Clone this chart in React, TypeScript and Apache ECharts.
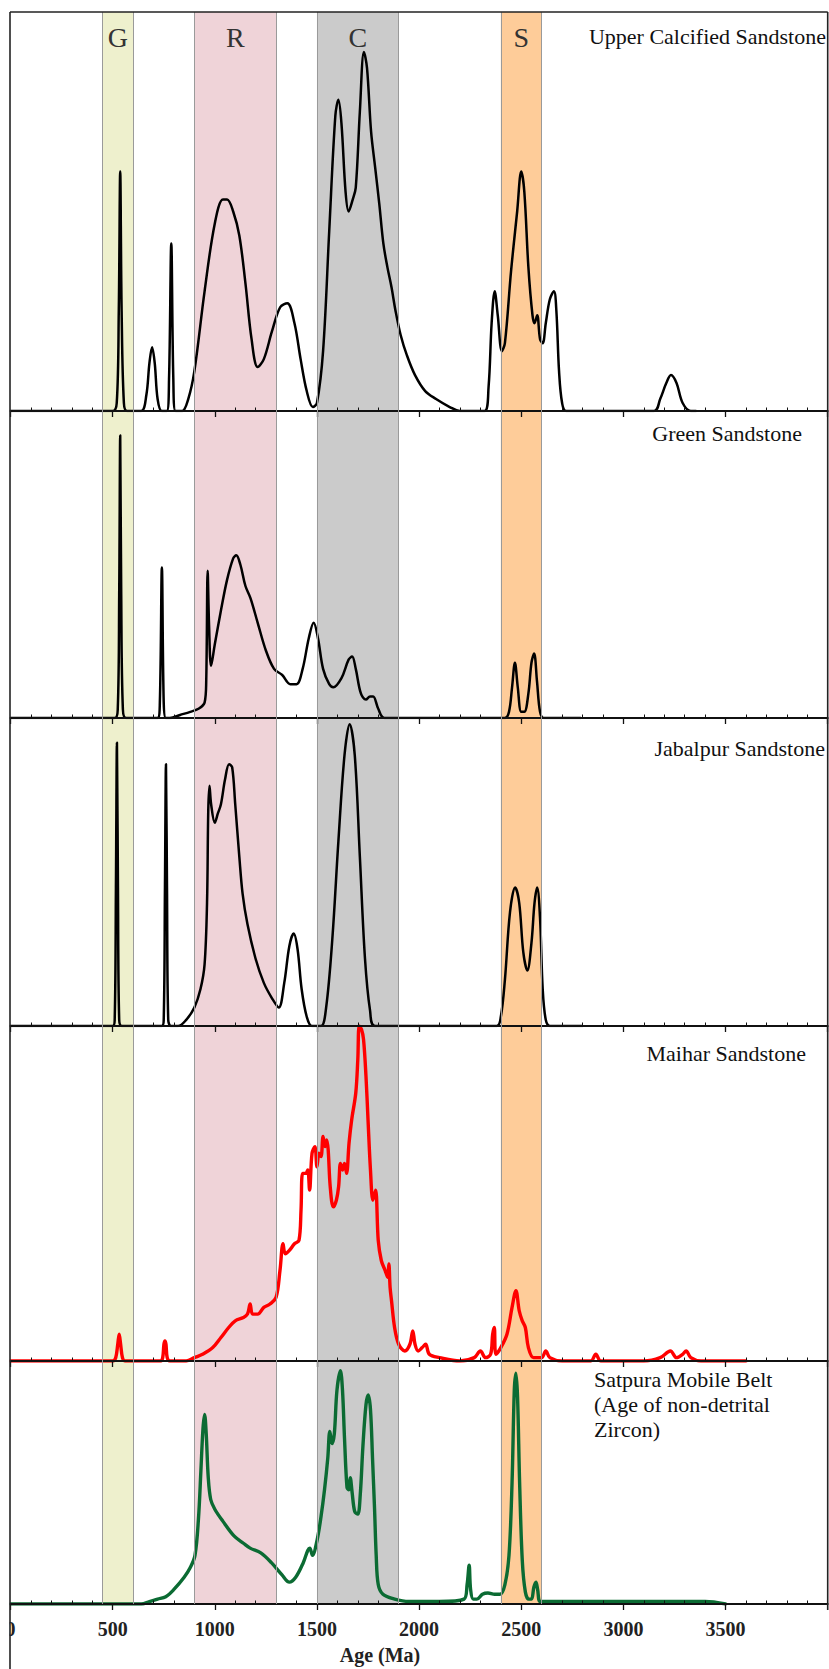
import React, { useEffect, useRef } from "react";
import * as echarts from "echarts";

// ---- Data (age in Ma, relative probability in % of panel scale) ----
const panelNames = [
  "Upper Calcified Sandstone",
  "Green Sandstone",
  "Jabalpur Sandstone",
  "Maihar Sandstone",
  "Satpura Mobile Belt\n(Age of non-detrital\nZircon)",
];

const xTickLabels = ["0", "500", "1000", "1500", "2000", "2500", "3000", "3500"];

const bands = [
  { name: "G", from: 450, to: 600, color: "#EEF0CD" },
  { name: "R", from: 900, to: 1300, color: "#EFD3D8" },
  { name: "C", from: 1500, to: 1900, color: "#CBCBCB" },
  { name: "S", from: 2400, to: 2600, color: "#FECC99" },
];

const upperCalcified: number[][] = [
  [0, 0], [500, 0], [520, 2], [530, 25], [537, 60], [544, 25], [555, 2], [570, 0],
  [640, 0], [665, 4], [680, 12], [693, 16], [706, 12], [720, 3], [740, 0],
  [765, 0], [776, 8], [787, 42], [797, 8], [808, 0],
  [840, 0], [870, 3], [900, 10], [950, 30], [1000, 47], [1040, 53], [1060, 53], [1090, 50], [1120, 44],
  [1150, 32], [1180, 18], [1210, 11], [1240, 13], [1280, 20], [1320, 26], [1355, 27], [1390, 22],
  [1420, 13], [1450, 5], [1480, 1], [1500, 2],
  [1530, 15], [1560, 45], [1590, 74], [1605, 78], [1620, 72], [1640, 55], [1655, 50], [1675, 53],
  [1690, 56], [1710, 75], [1730, 90], [1745, 86], [1765, 70], [1785, 61], [1805, 52], [1825, 42],
  [1845, 36], [1865, 31], [1885, 25], [1910, 19], [1940, 14], [1980, 9], [2030, 5], [2083, 3],
  [2150, 1], [2200, 0],
  [2320, 0], [2340, 6], [2355, 22], [2370, 30], [2385, 24], [2405, 15], [2420, 17], [2450, 35],
  [2480, 50], [2500, 60], [2515, 55], [2535, 36], [2555, 24], [2565, 22], [2578, 24], [2592, 18],
  [2605, 17], [2620, 22], [2640, 28], [2660, 30], [2672, 25], [2685, 10], [2700, 2], [2720, 0],
  [3150, 0], [3180, 3], [3210, 7], [3233, 9], [3260, 7], [3290, 2], [3330, 0], [3355, 0],
];

const greenSandstone: number[][] = [
  [0, 0], [510, 0], [525, 3], [532, 40], [537, 92], [542, 40], [550, 3], [565, 0],
  [720, 0], [731, 5], [741, 49], [750, 5], [760, 0],
  [780, 0], [830, 1], [880, 2], [920, 3], [950, 5], [958, 12], [965, 48], [972, 30], [982, 17],
  [1000, 24], [1030, 35], [1060, 45], [1090, 52], [1105, 53], [1125, 50], [1150, 43], [1175, 39],
  [1210, 31], [1250, 22], [1290, 16], [1330, 14], [1370, 11], [1400, 11], [1430, 16], [1460, 26],
  [1484, 31], [1505, 26], [1530, 16], [1560, 11], [1580, 10], [1620, 13], [1655, 19], [1672, 20],
  [1690, 16], [1715, 8], [1740, 6], [1760, 7], [1775, 7], [1800, 3], [1830, 0],
  [2420, 0], [2440, 2], [2455, 10], [2469, 18], [2483, 10], [2500, 2], [2515, 2], [2535, 8],
  [2550, 18], [2563, 21], [2577, 12], [2592, 2], [2610, 0], [2790, 0],
];

const jabalpur: number[][] = [
  [0, 0], [500, 0], [510, 2], [516, 45], [521, 92], [526, 45], [532, 2], [545, 0],
  [740, 0], [750, 2], [756, 45], [761, 85], [766, 45], [772, 2], [785, 0],
  [820, 0], [860, 2], [900, 6], [930, 12], [950, 20], [962, 40], [968, 70], [974, 78], [982, 72],
  [1000, 66], [1015, 69], [1030, 72], [1050, 80], [1070, 85], [1085, 84], [1100, 72], [1120, 55],
  [1136, 43], [1160, 33], [1199, 22], [1240, 14], [1280, 9], [1313, 6], [1340, 14], [1365, 26],
  [1386, 30], [1405, 25], [1425, 12], [1450, 3], [1475, 0],
  [1520, 0], [1545, 6], [1575, 28], [1605, 60], [1635, 88], [1660, 98], [1685, 88], [1710, 55],
  [1735, 22], [1760, 5], [1785, 0],
  [2380, 0], [2400, 3], [2420, 15], [2445, 37], [2470, 45], [2490, 40], [2510, 24], [2530, 18],
  [2550, 27], [2565, 40], [2578, 45], [2592, 35], [2605, 12], [2620, 2], [2640, 0], [2800, 0],
];

const maihar: number[][] = [
  [0, 0], [500, 0], [515, 1], [525, 5], [532, 8], [539, 5], [548, 1], [560, 0],
  [735, 0], [745, 1], [751, 5], [756, 6], [761, 5], [767, 1], [780, 0],
  [860, 0], [900, 1], [940, 2], [990, 4], [1030, 7], [1068, 10], [1100, 12], [1140, 13], [1160, 14],
  [1173, 17], [1185, 14], [1210, 14], [1240, 16], [1270, 17], [1300, 19], [1319, 27], [1334, 35],
  [1345, 32], [1365, 33], [1390, 35], [1412, 36], [1422, 45], [1430, 56], [1445, 56], [1455, 57],
  [1464, 51], [1476, 62], [1490, 64], [1500, 58], [1510, 62], [1520, 61], [1530, 67], [1540, 64],
  [1548, 66], [1555, 63], [1565, 52], [1580, 46], [1595, 48], [1606, 52], [1615, 59], [1625, 57],
  [1635, 59], [1645, 56],
  [1657, 65], [1670, 72], [1690, 80], [1700, 90], [1707, 100], [1718, 99], [1728, 96], [1740, 85],
  [1750, 72], [1762, 57], [1774, 48], [1787, 51], [1800, 36], [1815, 30], [1834, 27], [1846, 25],
  [1852, 29], [1858, 22], [1865, 18], [1880, 10], [1900, 5], [1930, 3], [1955, 5], [1969, 9],
  [1980, 5], [1995, 3], [2015, 4], [2032, 5], [2050, 2], [2100, 1], [2200, 0], [2270, 1], [2300, 3],
  [2325, 1], [2350, 2], [2360, 8], [2368, 10], [2376, 2], [2400, 4], [2430, 8], [2455, 16],
  [2474, 21], [2490, 15], [2505, 12], [2520, 10], [2535, 4], [2560, 1], [2600, 1], [2620, 3],
  [2640, 1], [2700, 0], [2840, 0], [2865, 2], [2890, 0], [3100, 0], [3180, 1], [3230, 3], [3260, 1],
  [3290, 2], [3307, 3], [3330, 1], [3380, 0], [3600, 0],
];

const satpura: number[][] = [
  [0, 0], [640, 0], [680, 1], [720, 2], [760, 3], [800, 6], [850, 11], [880, 15], [903, 20],
  [920, 35], [932, 55], [942, 72], [950, 78], [958, 70], [968, 52], [980, 43], [1000, 39],
  [1040, 34], [1094, 28], [1140, 25], [1173, 23], [1225, 21], [1277, 17], [1329, 12], [1365, 9],
  [1396, 11], [1433, 17], [1455, 22], [1465, 23], [1478, 20], [1500, 26], [1520, 36], [1537, 47],
  [1553, 60], [1563, 71], [1574, 66], [1585, 70], [1598, 88], [1615, 96], [1625, 88], [1635, 68],
  [1647, 48], [1655, 47], [1663, 52], [1672, 46], [1685, 38], [1700, 37], [1712, 45], [1725, 65],
  [1740, 82], [1751, 86], [1762, 80], [1772, 60], [1782, 39], [1790, 20], [1800, 8], [1823, 4],
  [1880, 2], [1950, 1], [2100, 1], [2220, 2], [2235, 8], [2245, 16], [2252, 6], [2265, 2],
  [2283, 2], [2310, 4], [2337, 4.5], [2370, 4], [2396, 4], [2420, 8], [2440, 20], [2455, 50],
  [2466, 88], [2474, 95], [2482, 85], [2492, 50], [2505, 18], [2520, 5], [2537, 2], [2550, 2],
  [2562, 7], [2572, 9], [2580, 6], [2592, 1], [2620, 1], [2800, 1], [3100, 1], [3400, 1], [3500, 0],
];

const seriesData = [upperCalcified, greenSandstone, jabalpur, maihar, satpura];
const seriesColors = ["#000000", "#000000", "#000000", "#FF0000", "#0B6B33"];
const seriesWidths = [2.5, 2.5, 2.5, 3.4, 3.4];

// ---- Layout ----
const W = 829;
const H = 1669;
const PLOT_LEFT = 10.5;
const PLOT_RIGHT = 827.7;
const PANEL_TOP = [12, 411, 718, 1026, 1361];
const PANEL_AXIS = [411, 718, 1026, 1361, 1604];
const SERIF = "'Liberation Serif', 'Times New Roman', serif";

function buildOption() {
  const grids: any[] = [];
  const xAxes: any[] = [];
  const yAxes: any[] = [];
  const series: any[] = [];

  for (let i = 0; i < 5; i++) {
    grids.push({
      left: PLOT_LEFT,
      width: PLOT_RIGHT - PLOT_LEFT,
      top: PANEL_TOP[i],
      height: PANEL_AXIS[i] - PANEL_TOP[i],
      containLabel: false,
    });
    // axis A: line + inward minor ticks
    xAxes.push({
      gridIndex: i,
      type: "value",
      min: 0,
      max: 4000,
      interval: 500,
      position: "bottom",
      z: 4,
      axisLine: { show: true, onZero: false, lineStyle: { color: "#111", width: 2 } },
      axisTick: { show: false, inside: true },
      minorTick: { show: true, splitNumber: 5, length: 3.5, lineStyle: { color: "#111", width: 1 } },
      axisLabel: { show: false },
      splitLine: { show: false },
      minorSplitLine: { show: false },
    });
    // axis B: outward major ticks + labels
    xAxes.push({
      gridIndex: i,
      type: "value",
      min: 0,
      max: 4000,
      interval: 500,
      position: "bottom",
      z: 4,
      axisLine: { show: false, onZero: false },
      axisTick: { show: true, inside: false, length: 6, lineStyle: { color: "#111", width: 1.3 } },
      minorTick: { show: false },
      axisLabel: {
        show: i === 4,
        showMaxLabel: false,
        margin: 15,
        fontFamily: SERIF,
        fontWeight: "bold",
        fontSize: 20,
        color: "#222",
        formatter: (v: number) => {
          const idx = Math.round(v / 500);
          return xTickLabels[idx] ?? "";
        },
      },
      splitLine: { show: false },
    });
    yAxes.push({ gridIndex: i, type: "value", min: 0, max: 100, show: false });
    series.push({
      type: "line",
      xAxisIndex: i * 2,
      yAxisIndex: i,
      data: seriesData[i],
      showSymbol: false,
      symbol: "none",
      smooth: 0.35,
      z: 3,
      lineStyle: { color: seriesColors[i], width: seriesWidths[i], join: "round", cap: "round" },
      silent: true,
    });
  }

  // background grid for the age bands
  grids.push({
    left: PLOT_LEFT,
    width: PLOT_RIGHT - PLOT_LEFT,
    top: PANEL_TOP[0],
    height: PANEL_AXIS[4] - PANEL_TOP[0],
  });
  xAxes.push({ gridIndex: 5, type: "value", min: 0, max: 4000, show: false });
  yAxes.push({ gridIndex: 5, type: "value", min: 0, max: 1, show: false });
  const edgeData: any[] = [];
  bands.forEach((b) => {
    edgeData.push({ xAxis: b.from });
    edgeData.push({ xAxis: b.to });
  });
  series.push({
    type: "line",
    xAxisIndex: 10,
    yAxisIndex: 5,
    data: [[0, 0]],
    showSymbol: false,
    lineStyle: { width: 0, opacity: 0 },
    z: 1,
    silent: true,
    markArea: {
      silent: true,
      data: bands.map((b) => [
        {
          xAxis: b.from,
          itemStyle: { color: b.color, borderWidth: 0 },
          label: {
            show: true,
            position: "insideTop",
            distance: 11,
            formatter: b.name,
            fontFamily: SERIF,
            fontSize: 28,
            color: "#333",
          },
        },
        { xAxis: b.to },
      ]),
    },
    markLine: {
      silent: true,
      symbol: ["none", "none"],
      label: { show: false },
      lineStyle: { color: "#9a9a9a", type: "solid", width: 1 },
      data: edgeData,
    },
  });

  const labelStyle = { fill: "#111", fontSize: 22, fontFamily: SERIF };
  const graphic: any[] = [
    { type: "rect", z: 9, shape: { x: 0, y: 0, width: 9.6, height: H }, style: { fill: "#ffffff" } },
    { type: "line", z: 10, shape: { x1: 10, y1: 12, x2: 10, y2: H }, style: { stroke: "#222", lineWidth: 1.6 } },
    { type: "line", z: 10, shape: { x1: 10, y1: 12, x2: PLOT_RIGHT, y2: 12 }, style: { stroke: "#222", lineWidth: 1.6 } },
    { type: "line", z: 10, shape: { x1: PLOT_RIGHT, y1: 12, x2: PLOT_RIGHT, y2: 1610 }, style: { stroke: "#222", lineWidth: 1.6 } },
    { type: "text", z: 10, style: { ...labelStyle, text: panelNames[0], x: 826, y: 36, align: "right", verticalAlign: "middle" } },
    { type: "text", z: 10, style: { ...labelStyle, text: panelNames[1], x: 802, y: 433, align: "right", verticalAlign: "middle" } },
    { type: "text", z: 10, style: { ...labelStyle, text: panelNames[2], x: 825, y: 748, align: "right", verticalAlign: "middle" } },
    { type: "text", z: 10, style: { ...labelStyle, text: panelNames[3], x: 806, y: 1053, align: "right", verticalAlign: "middle" } },
    { type: "text", z: 10, style: { ...labelStyle, text: panelNames[4], x: 594, y: 1367, align: "left", verticalAlign: "top", lineHeight: 25 } },
    {
      type: "text",
      z: 10,
      style: { text: "Age (Ma)", x: 380, y: 1655, align: "center", verticalAlign: "middle", fill: "#222", fontSize: 20, fontWeight: "bold", fontFamily: SERIF },
    },
  ];

  return {
    animation: false,
    backgroundColor: "#ffffff",
    grid: grids,
    xAxis: xAxes,
    yAxis: yAxes,
    series,
    graphic,
  };
}

export default function App() {
  const ref = useRef<HTMLDivElement>(null);
  useEffect(() => {
    if (!ref.current) return;
    const chart = echarts.init(ref.current, undefined, { renderer: "svg" });
    chart.setOption(buildOption() as any);
    return () => chart.dispose();
  }, []);
  return (
    <div
      ref={ref}
      style={{ position: "absolute", left: 0, top: 0, width: W, height: H, background: "#fff" }}
    />
  );
}
